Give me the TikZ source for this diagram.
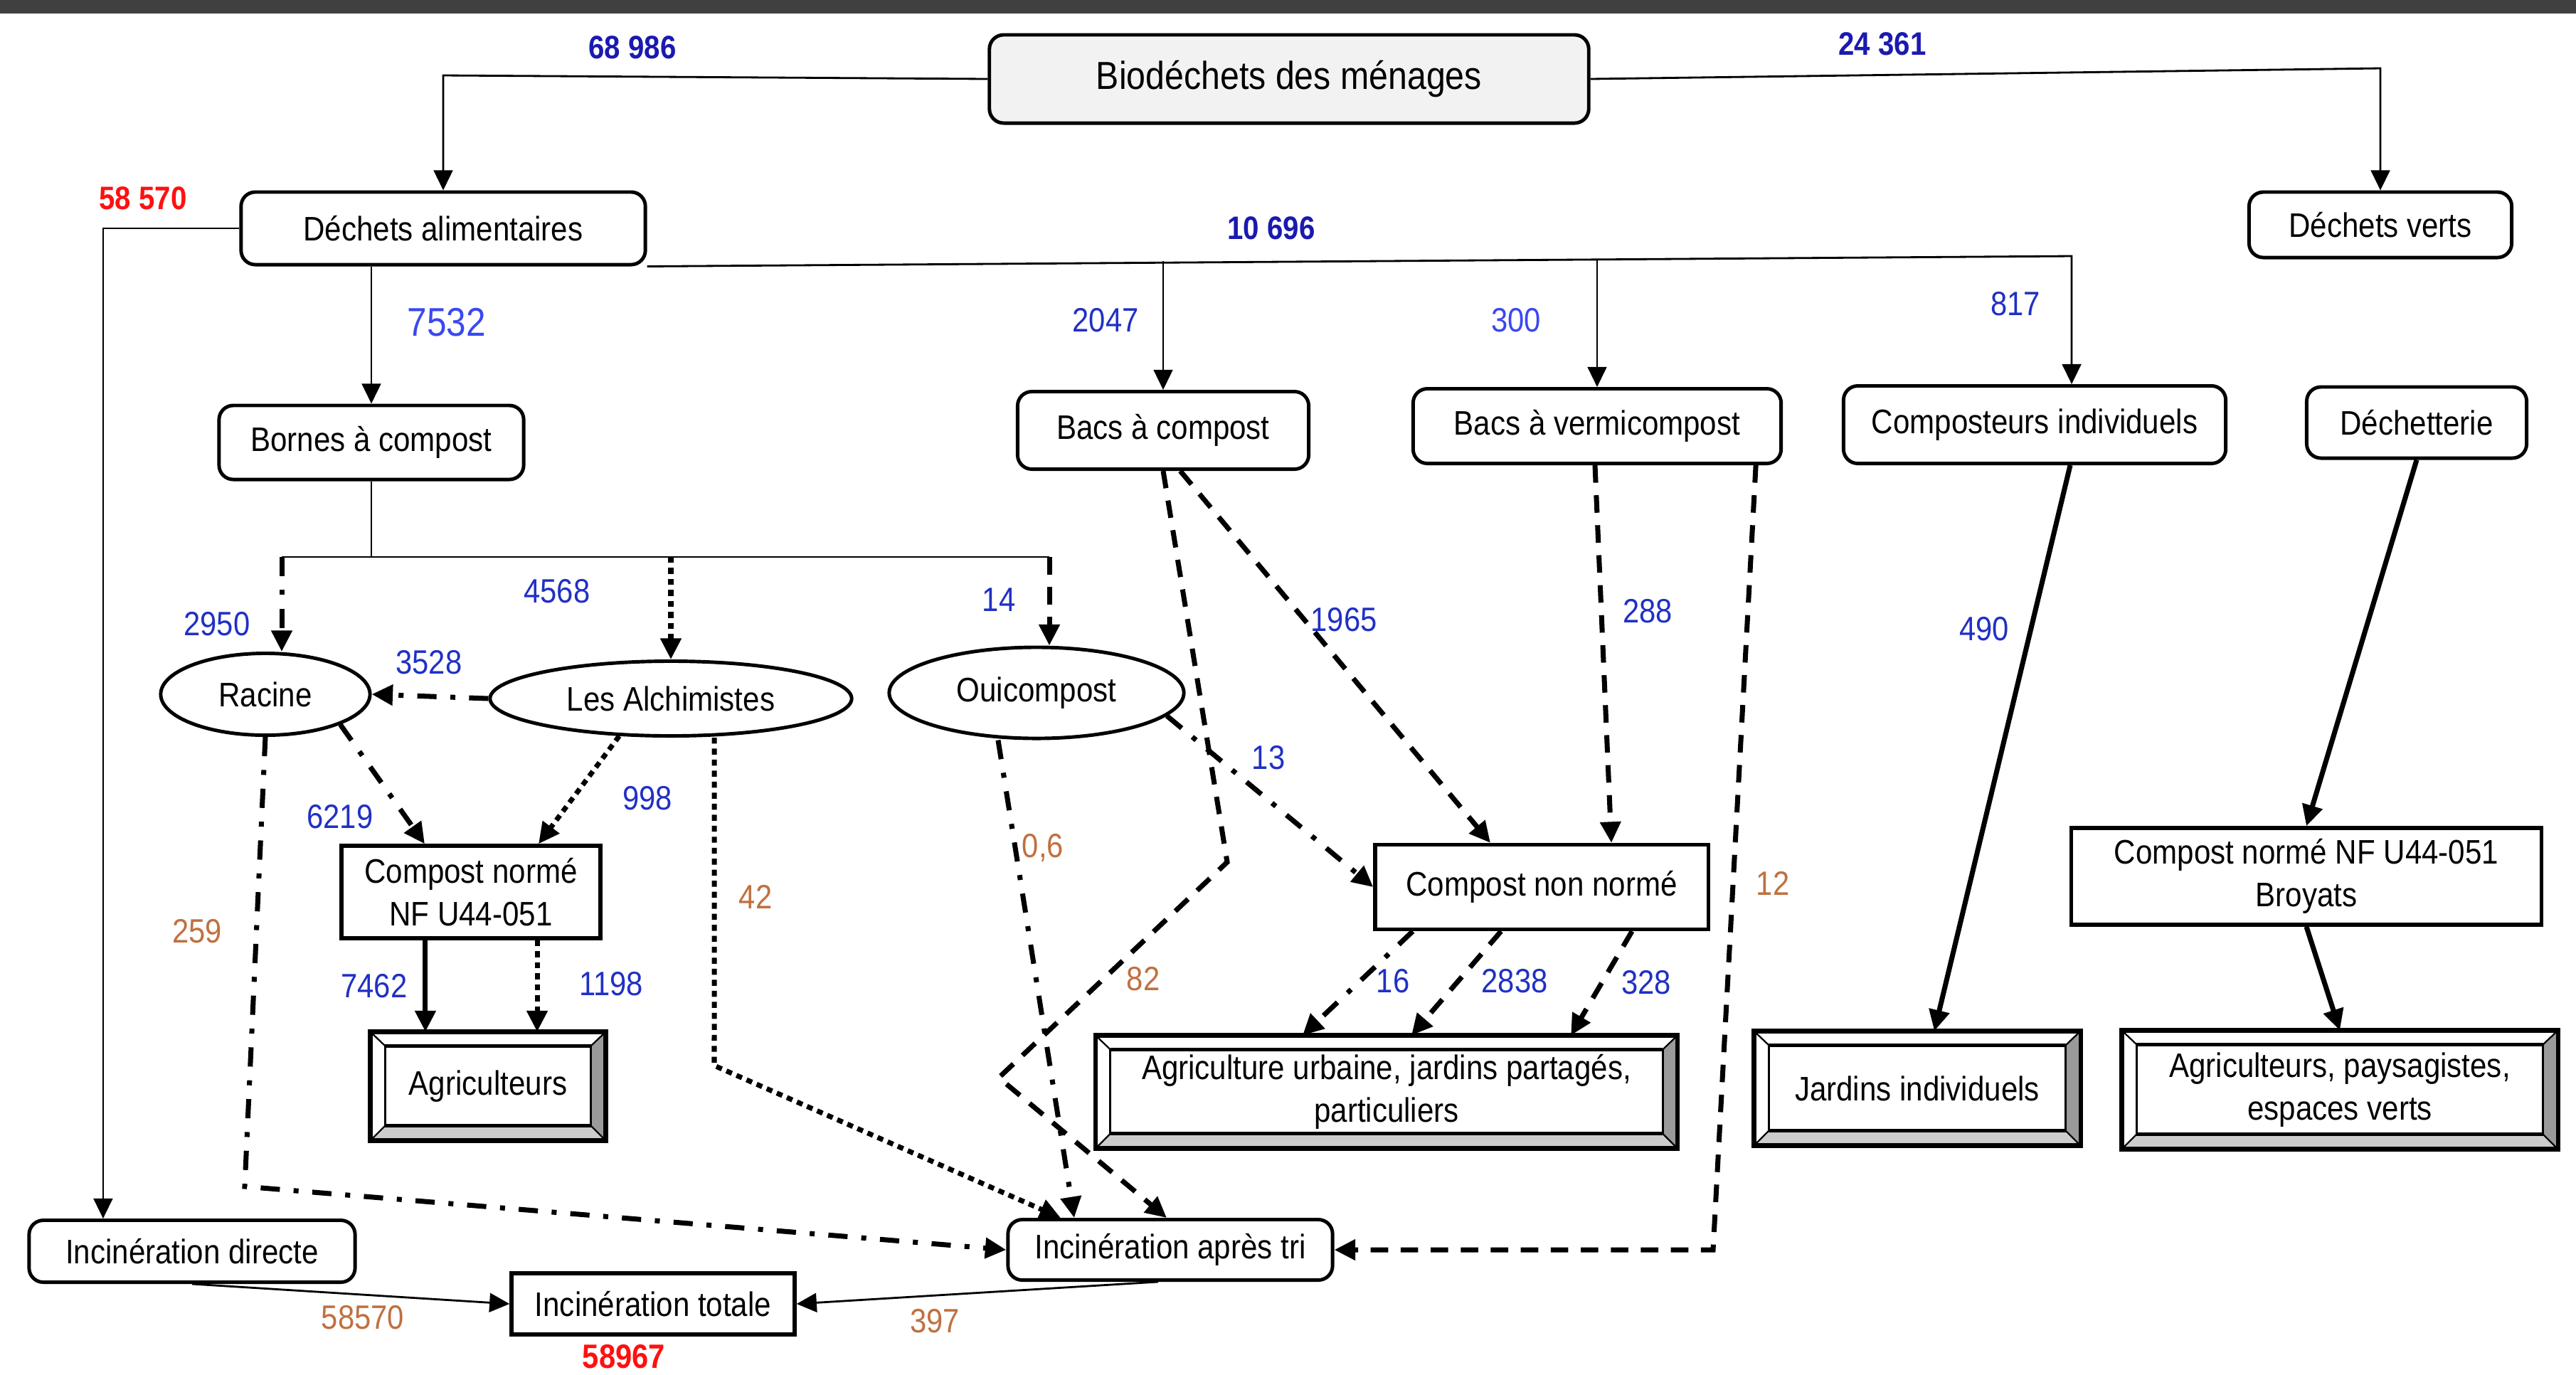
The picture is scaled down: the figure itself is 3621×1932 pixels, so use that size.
\documentclass[tikz,border=0pt]{standalone}
\usepackage{fontspec}
\setmainfont{Liberation Sans}[FakeStretch=0.88]
\usetikzlibrary{arrows.meta,shapes.geometric,calc}
\definecolor{bblue}{HTML}{1A1AB0}
\definecolor{mblue}{HTML}{2030C4}
\definecolor{lblue}{HTML}{3A48F0}
\definecolor{brn}{HTML}{C0703F}
\definecolor{rred}{HTML}{FF1010}
\definecolor{topbar}{HTML}{404040}
\definecolor{titlefill}{HTML}{F2F2F2}
\definecolor{bevlight}{HTML}{CCCCCC}
\definecolor{bevdark}{HTML}{9A9A9A}
\newcommand\bevelbox[1]{%
 \path[draw=black, line width=0.6pt, fill=white] (#1.north west) -- (#1.north east) -- ([shift={(-0.21cm,-0.2cm)}]#1.north east) -- ([shift={(0.21cm,-0.2cm)}]#1.north west) -- cycle;
 \path[draw=black, line width=0.6pt, fill=bevlight] (#1.south west) -- (#1.south east) -- ([shift={(-0.21cm,0.21cm)}]#1.south east) -- ([shift={(0.21cm,0.21cm)}]#1.south west) -- cycle;
 \path[draw=black, line width=0.6pt, fill=bevdark] (#1.north east) -- (#1.south east) -- ([shift={(-0.21cm,0.21cm)}]#1.south east) -- ([shift={(-0.21cm,-0.2cm)}]#1.north east) -- cycle;
 \path[draw=black, line width=0.6pt, fill=white] (#1.north west) -- (#1.south west) -- ([shift={(0.21cm,0.21cm)}]#1.south west) -- ([shift={(0.21cm,-0.2cm)}]#1.north west) -- cycle;
 \draw[line width=0.8pt] ([shift={(0.21cm,-0.2cm)}]#1.north west) -- ([shift={(0.21cm,0.21cm)}]#1.south west);
 \draw[line width=0.8pt] ([shift={(-0.21cm,-0.2cm)}]#1.north east) -- ([shift={(-0.21cm,0.21cm)}]#1.south east);
 \draw[line width=1.4pt] ([shift={(0.21cm,-0.2cm)}]#1.north west) -- ([shift={(-0.21cm,-0.2cm)}]#1.north east);
 \draw[line width=1.4pt] ([shift={(0.21cm,0.21cm)}]#1.south west) -- ([shift={(-0.21cm,0.21cm)}]#1.south east);
 \draw[line width=1.8pt] (#1.north west) rectangle (#1.south east);
}
\begin{document}
\begin{tikzpicture}[x=0.01cm,y=-0.01cm,
  nodetext/.style={font=\fontsize{13.6}{17}\selectfont},
  rbox/.style={draw, rounded corners=0.2cm, line width=1.4pt, fill=white, align=center, inner sep=0pt, nodetext},
  sbox/.style={draw, line width=1.5pt, fill=white, align=center, inner sep=0pt, nodetext},
  ellbox/.style={ellipse, draw, line width=1.4pt, fill=white, inner sep=0pt, nodetext},
  bevbox/.style={rectangle, fill=white, align=center, inner sep=0pt, outer sep=0pt, nodetext},
  num/.style={font=\fontsize{13.5}{16}\selectfont, text=mblue, inner sep=0pt},
  bnum/.style={font=\fontsize{13}{16}\selectfont\bfseries, inner sep=0pt},
  thinarr/.style={line width=0.8pt, -{Triangle[length=8pt,width=7.6pt]}},
  thinln/.style={line width=0.8pt},
  thickarr/.style={line width=2pt, -{Triangle[length=8.4pt,width=8pt]}},
  dsh/.style={dash pattern=on 7pt off 5pt},
  dshdot/.style={dash pattern=on 7.7pt off 5.5pt on 2pt off 5.5pt},
  dots/.style={dash pattern=on 2.4pt off 2pt},
]
\fill[white] (0,0) rectangle (3621,1932);
\useasboundingbox (0,0) rectangle (3621,1932);
\fill[topbar] (0,0) rectangle (3621,19);

% nodes
\node[rbox, fill=titlefill, minimum width=8.42cm, minimum height=1.24cm, font=\fontsize{15.6}{18}\selectfont] (bio) at (1812,111) {Biodéchets des ménages};
\node[rbox, minimum width=5.68cm, minimum height=1.02cm] (dal) at (623,321) {Déchets alimentaires};
\node[rbox, minimum width=3.69cm, minimum height=0.92cm] (dv) at (3346,316) {Déchets verts};
\node[rbox, minimum width=4.28cm, minimum height=1.04cm] (bc) at (522,622) {Bornes à compost};
\node[rbox, minimum width=4.09cm, minimum height=1.09cm] (bac) at (1635,605) {Bacs à compost};
\node[rbox, minimum width=5.17cm, minimum height=1.05cm] (bv) at (2245,599) {Bacs à vermicompost};
\node[rbox, minimum width=5.37cm, minimum height=1.09cm] (ci) at (2860,597) {Composteurs individuels};
\node[rbox, minimum width=3.09cm, minimum height=1.00cm] (dech) at (3397,594) {Déchetterie};
\node[ellbox, minimum width=2.94cm, minimum height=1.15cm] (rac) at (373,976) {Racine};
\node[ellbox, minimum width=5.08cm, minimum height=1.05cm] (alc) at (943,982) {Les Alchimistes};
\node[ellbox, minimum width=4.14cm, minimum height=1.28cm] (oui) at (1457,974) {Ouicompost};
\node[sbox, minimum width=3.64cm, minimum height=1.30cm] (cnl) at (662,1254) {Compost normé\\NF U44-051};
\node[sbox, minimum width=4.68cm, minimum height=1.19cm] (cnn) at (2167,1247) {Compost non normé};
\node[sbox, minimum width=6.60cm, minimum height=1.36cm] (cnr) at (3242,1232) {Compost normé NF U44-051\\Broyats};
\node[bevbox, minimum width=3.31cm, minimum height=1.53cm] (agr) at (686,1527) {};
\node[bevbox, minimum width=8.18cm, minimum height=1.59cm] (agu) at (1949,1535) {};
\node[bevbox, minimum width=4.59cm, minimum height=1.61cm] (jar) at (2695,1530) {};
\node[bevbox, minimum width=6.13cm, minimum height=1.67cm] (apv) at (3289,1532) {};
\bevelbox{agr}
\bevelbox{agu}
\bevelbox{jar}
\bevelbox{apv}
\node[nodetext, align=center] (agrt) at (agr) {Agriculteurs};
\node[nodetext, align=center] (agut) at (agu) {Agriculture urbaine, jardins partagés,\\particuliers};
\node[nodetext, align=center] (jart) at (jar) {Jardins individuels};
\node[nodetext, align=center] (apvt) at (apv) {Agriculteurs, paysagistes,\\espaces verts};
\node[rbox, minimum width=4.58cm, minimum height=0.87cm] (incd) at (270,1759) {Incinération directe};
\node[sbox, minimum width=3.98cm, minimum height=0.86cm] (inct) at (918,1833) {Incinération totale};
\node[rbox, minimum width=4.56cm, minimum height=0.85cm] (apt) at (1645,1757) {Incinération après tri};

% labels
\node[bnum, text=bblue] (l68) at (889,67) {68 986};
\node[bnum, text=bblue] (l243) at (2646,62) {24 361};
\node[bnum, text=rred] (l585) at (201,279) {58 570};
\node[bnum, text=bblue] (l106) at (1787,321) {10 696};
\node[num, text=lblue, font=\fontsize{16}{18}\selectfont] (l7532) at (628,453) {7532};
\node[num] (l2047) at (1554,450) {2047};
\node[num, text=lblue] (l300) at (2131,450) {300};
\node[num] (l817) at (2833,427) {817};
\node[num] (l4568) at (783,831) {4568};
\node[num] (l2950) at (305,877) {2950};
\node[num] (l14) at (1404,843) {14};
\node[num] (l3528) at (603,931) {3528};
\node[num] (l1965) at (1889,871) {1965};
\node[num] (l288) at (2316,859) {288};
\node[num] (l490) at (2789,884) {490};
\node[num] (l13) at (1783,1065) {13};
\node[num] (l6219) at (478,1148) {6219};
\node[num] (l998) at (910,1122) {998};
\node[num, text=brn] (l259) at (277,1309) {259};
\node[num, text=brn] (l42) at (1062,1261) {42};
\node[num, text=brn] (l06) at (1466,1192) {0,6};
\node[num, text=brn] (l82) at (1607,1376) {82};
\node[num, text=brn] (l12) at (2492,1242) {12};
\node[num] (l7462) at (526,1386) {7462};
\node[num] (l1198) at (859,1383) {1198};
\node[num] (l16) at (1958,1379) {16};
\node[num] (l2838) at (2129,1379) {2838};
\node[num] (l328) at (2314,1381) {328};
\node[num, text=brn] (l58570b) at (510,1852) {58570};
\node[bnum, text=rred, font=\fontsize{13.5}{16}\selectfont\bfseries] (l58967) at (877,1907) {58967};
\node[num, text=brn] (l397) at (1314,1857) {397};

% thin connectors
\draw[thinarr] (bio.west) -- (dal.north |- 0,106) -- (dal.north);
\draw[thinarr] (bio.east) -- (dv.north |- 0,96) -- (dv.north);
\draw[thinarr] (bc.north |- dal.south) -- (bc.north);
\coordinate (incdn) at ([xshift=-1.25cm]incd.north);
\draw[thinarr] (dal.west) -| (incdn);
\coordinate (cin) at ([xshift=0.52cm]ci.north);
\draw[thinarr] (dal.south east) -- (cin |- 0,360) -- (cin);
\draw[thinarr] (bac.north |- 0,367) -- (bac.north);
\draw[thinarr] (bv.north |- 0,364) -- (bv.north);

% bornes to ellipses
\coordinate (racn) at ([xshift=0.23cm]rac.north);
\coordinate (ouin) at ([xshift=0.18cm]oui.north);
\draw[thinln] (bc.south) -- (bc.south |- 0,783);
\draw[thinln] (racn |- 0,783) -- (ouin |- 0,783);
\draw[thickarr, dshdot] (racn |- 0,783) -- (racn);
\draw[thickarr, dots] (alc.north |- 0,783) -- (alc.north);
\draw[thickarr, dsh] (ouin |- 0,783) -- (ouin);

% processing flows
\draw[thickarr, dshdot] (alc.west) -- (rac.east);
\draw[thickarr, dshdot] (rac.-22) -- ([xshift=-0.65cm]cnl.north);
\draw[thickarr, dots] (alc.-144) -- ([xshift=0.95cm]cnl.north);
\coordinate (k1) at (344,1668);
\draw[thickarr, dshdot] (rac.south) -- (k1) -- (apt.west);
\coordinate (k2) at (1004,1498);
\draw[thickarr, dots] ([xshift=0.61cm]alc.south) -- (k2) -- ([xshift=-1.54cm]apt.north);
\draw[thickarr, dshdot] ([xshift=-0.54cm]oui.south) -- ([xshift=-1.35cm]apt.north);
\draw[thickarr, dshdot] (oui.-10) -- (cnn.west);
\draw[thickarr, dsh] ([xshift=0.24cm]bac.south) -- ([xshift=-0.72cm]cnn.north);
\coordinate (k3) at (1725,1212);
\coordinate (k4) at (1404,1515);
\draw[thickarr, dsh] (bac.south) -- (k3) -- (k4) -- ([xshift=-0.05cm]apt.north);
\draw[thickarr, dsh] ([xshift=-0.03cm]bv.south) -- ([xshift=0.98cm]cnn.north);
\coordinate (k5) at (2408,1757);
\draw[thickarr, dsh] ([xshift=2.23cm]bv.south) -- (k5) -- (apt.east);
\draw[thickarr] ([xshift=0.5cm]ci.south) -- ([xshift=0.24cm]jar.north);
\draw[thickarr] (dech.south) -- (cnr.north);
\draw[thickarr] (cnr.south) -- (apv.north);
\coordinate (c1) at ([xshift=-0.64cm]cnl.south);
\draw[thickarr] (c1) -- (c1 |- agr.north);
\coordinate (c2) at ([xshift=0.93cm]cnl.south);
\draw[thickarr, dots] (c2) -- (c2 |- agr.north);
\draw[thickarr, dshdot] ([xshift=-1.81cm]cnn.south) -- ([xshift=-1.18cm]agu.north);
\draw[thickarr, dsh] ([xshift=-0.57cm]cnn.south) -- ([xshift=0.35cm]agu.north);
\draw[thickarr, dsh] ([xshift=1.27cm]cnn.south) -- ([xshift=2.59cm]agu.north);
\draw[thinarr] (incd.south) -- (inct.west);
\draw[thinarr] ([xshift=-0.17cm]apt.south) -- (inct.east);
\end{tikzpicture}
\end{document}
